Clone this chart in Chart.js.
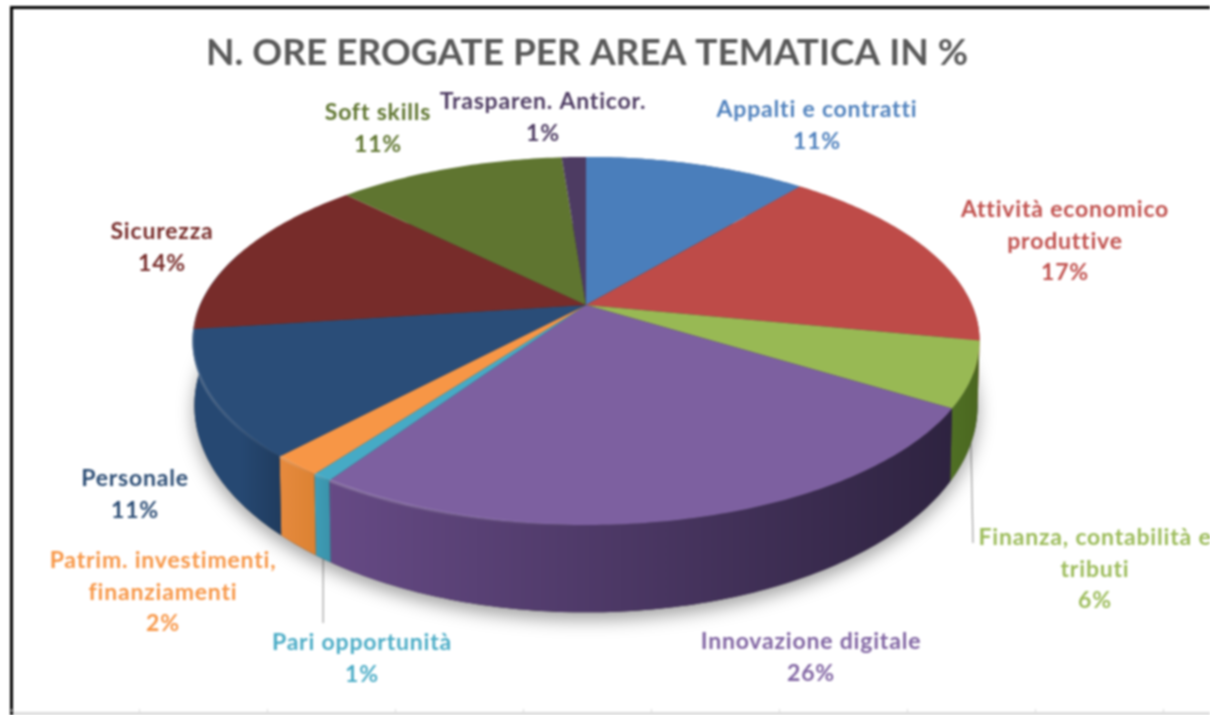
<!DOCTYPE html>
<html lang="it">
<head>
<meta charset="utf-8">
<title>N. ore erogate per area tematica</title>
<script src="https://cdn.jsdelivr.net/npm/chart.js@4"></script>
<style>
html,body{margin:0;padding:0;background:#fff;overflow:hidden}
#chart{display:block;filter:blur(0.9px)}
</style>
</head>
<body>
<canvas id="chart" width="1210" height="715"></canvas>
<script>
// --- dati ---
const titleText="N. ORE EROGATE PER AREA TEMATICA IN %";
const categories=["Appalti e contratti","Attività economico produttive","Finanza, contabilità e tributi","Innovazione digitale","Pari opportunità","Patrim. investimenti, finanziamenti","Personale","Sicurezza","Soft skills","Trasparen. Anticor."];
const values=[11.0,17.1,5.7,25.6,0.7,1.8,11.0,14.6,11.3,1.2];
const percentLabels=["11%","17%","6%","26%","1%","2%","11%","14%","11%","1%"];

// --- colori ---
const topColors=["#4a7ebb","#be4b48","#98b954","#7d60a0","#46aac5","#f79646","#2a4d78","#772c2a","#5f7530","#4d3b62"];
const textColors=["#4f81bd","#c0504d","#9bbb59","#8064a2","#4bacc6","#f79646","#2c4d75","#772c2a","#5f7530","#4d3b62"];
const wallLight=["#3a6496","#983c3a","#4f6f24","#664a85","#3f9db6","#e68a3e","#264872","#5f2321","#4c5e26","#3e2f4e"];
const wallDark=["#3a6496","#983c3a","#4a661f","#2e2340","#3a93ab","#dc8232","#203c5f","#5f2321","#4c5e26","#3e2f4e"];

// --- righe delle etichette e dove stanno ---
const labelLines=[["Appalti e contratti"],["Attività economico","produttive"],["Finanza, contabilità e","tributi"],["Innovazione digitale"],["Pari opportunità"],["Patrim. investimenti,","finanziamenti"],["Personale"],["Sicurezza"],["Soft skills"],["Trasparen. Anticor."]];
const labelX=[817,1065,1095,811,362,163,135,162,378,543];
const labelY=[110,210,538,642,643,561,479,232,113,102];
const lineGap=31.5;
const leaderSlices=[2,4]; // fette con linea guida

// prospettiva: faccia superiore e anello inferiore
const cx=586, persp=0.1955;
const topRing={cy:305,a:386,b:177};
const botRing={cy:365,a:384,b:199};

function project(ring,theta){
  let u=Math.sin(theta), v=Math.cos(theta);
  let w=1+persp*v;
  return {x:cx+ring.a*u/w, y:ring.cy-ring.b*v/w};
}

function tracePart(ctx,ring,from,to,first){
  let n=Math.max(2,Math.ceil(Math.abs(to-from)/0.015));
  for(let i=0;i<=n;i++){
    let p=project(ring,from+(to-from)*i/n);
    if(i===0 && first) ctx.moveTo(p.x,p.y); else ctx.lineTo(p.x,p.y);
  }
}

const pie3d={
  id:'pie3d',
  beforeDraw(chart){
    const ctx=chart.ctx;
    ctx.save();
    ctx.fillStyle="#fff";
    ctx.fillRect(0,0,chart.width,chart.height);
    // cornice (solo sopra e a sinistra) e riga in basso
    ctx.fillStyle="#000";
    ctx.fillRect(10,6,1200,3);
    ctx.fillRect(10,6,3,709);
    ctx.fillStyle="#dcdcdc";
    ctx.fillRect(13,712,1197,3);
    for(let x=11;x<1210;x+=128) ctx.fillRect(x,709,1,3);
    ctx.restore();
  },
  beforeDatasetDraw(chart,args){
    const ctx=chart.ctx;
    const arcs=chart.getDatasetMeta(args.index).data;
    const theta=a=>a+Math.PI/2;
    ctx.save();

    // linee guida, sotto la torta
    ctx.strokeStyle="#a6a6a6";
    ctx.lineWidth=1.3;
    leaderSlices.forEach(i=>{
      let p=project(botRing,theta((arcs[i].startAngle+arcs[i].endAngle)/2));
      let endX=i===2?973:p.x, endY=i===2?543:623;
      ctx.beginPath(); ctx.moveTo(p.x,p.y); ctx.lineTo(endX,endY); ctx.stroke();
    });

    // ombra sotto l'anello inferiore
    ctx.save();
    ctx.shadowColor="rgba(0,0,0,0.38)";
    ctx.shadowBlur=18;
    ctx.shadowOffsetY=7;
    ctx.fillStyle="#333";
    ctx.beginPath();
    tracePart(ctx,botRing,0.6,Math.PI*2-0.6,true);
    ctx.closePath();
    ctx.fill();
    ctx.restore();

    // pareti: solo le fette davanti, l'ultima arriva fino al bordo sinistro
    arcs.forEach((arc,i)=>{
      let a=theta(arc.startAngle), b=theta(arc.endAngle);
      if(a>Math.PI*1.45) return;
      if(b>Math.PI*1.4) b=Math.PI*1.6;
      let pa=project(topRing,a), pb=project(topRing,b);
      let g=ctx.createLinearGradient(Math.min(pa.x,pb.x),0,Math.max(pa.x,pb.x),0);
      g.addColorStop(0,wallLight[i]);
      g.addColorStop(1,wallDark[i]);
      ctx.fillStyle=g;
      ctx.beginPath();
      tracePart(ctx,topRing,a,b,true);
      tracePart(ctx,botRing,b,a,false);
      ctx.closePath();
      ctx.fill();
    });

    // facce superiori, gli angoli arrivano dagli archi di Chart.js
    arcs.forEach(arc=>{
      let a=theta(arc.startAngle), b=theta(arc.endAngle);
      ctx.fillStyle=arc.options.backgroundColor;
      ctx.beginPath();
      ctx.moveTo(cx,topRing.cy);
      tracePart(ctx,topRing,a,b,false);
      ctx.closePath();
      ctx.fill();
    });

    // bordo chiaro sul lato anteriore sinistro
    arcs.forEach((arc,i)=>{
      let a=Math.max(theta(arc.startAngle),Math.PI), b=Math.min(theta(arc.endAngle),Math.PI*1.5);
      if(i===3){ a=theta(arc.startAngle)+1.0; b=theta(arc.endAngle); }
      if(b<=a) return;
      let pa=project(topRing,a), pb=project(topRing,b);
      let g=ctx.createLinearGradient(Math.max(pa.x,pb.x),0,Math.min(pa.x,pb.x),0);
      g.addColorStop(0,"rgba(255,255,255,0)");
      g.addColorStop(1,"rgba(255,255,255,0.18)");
      ctx.strokeStyle=g;
      ctx.lineWidth=3;
      ctx.beginPath();
      tracePart(ctx,topRing,a,b,true);
      ctx.stroke();
    });
    ctx.restore();
    return false; // niente disegno piatto di default
  },
  afterDatasetsDraw(chart){
    const ctx=chart.ctx;
    ctx.save();
    ctx.font="bold 23px Lato";
    ctx.letterSpacing="0.8px";
    ctx.textAlign="center";
    ctx.textBaseline="middle";
    categories.forEach((c,i)=>{
      ctx.fillStyle=textColors[i];
      let lines=labelLines[i].concat(percentLabels[i]);
      lines.forEach((t,k)=>ctx.fillText(t,labelX[i],labelY[i]+k*lineGap));
    });
    ctx.restore();
  }
};

new Chart(document.getElementById("chart"),{
  type:'pie',
  data:{
    labels:categories,
    datasets:[{data:values,backgroundColor:topColors,borderWidth:0}]
  },
  options:{
    responsive:false,
    animation:false,
    layout:{padding:{left:0,right:36,top:31,bottom:262}},
    plugins:{
      legend:{display:false},
      tooltip:{enabled:false},
      title:{
        display:true,
        fullSize:false,
        text:titleText,
        color:"#595959",
        font:{family:"Lato",size:37,weight:"bold"},
        padding:0
      }
    }
  },
  plugins:[pie3d]
});
</script>
</body>
</html>
